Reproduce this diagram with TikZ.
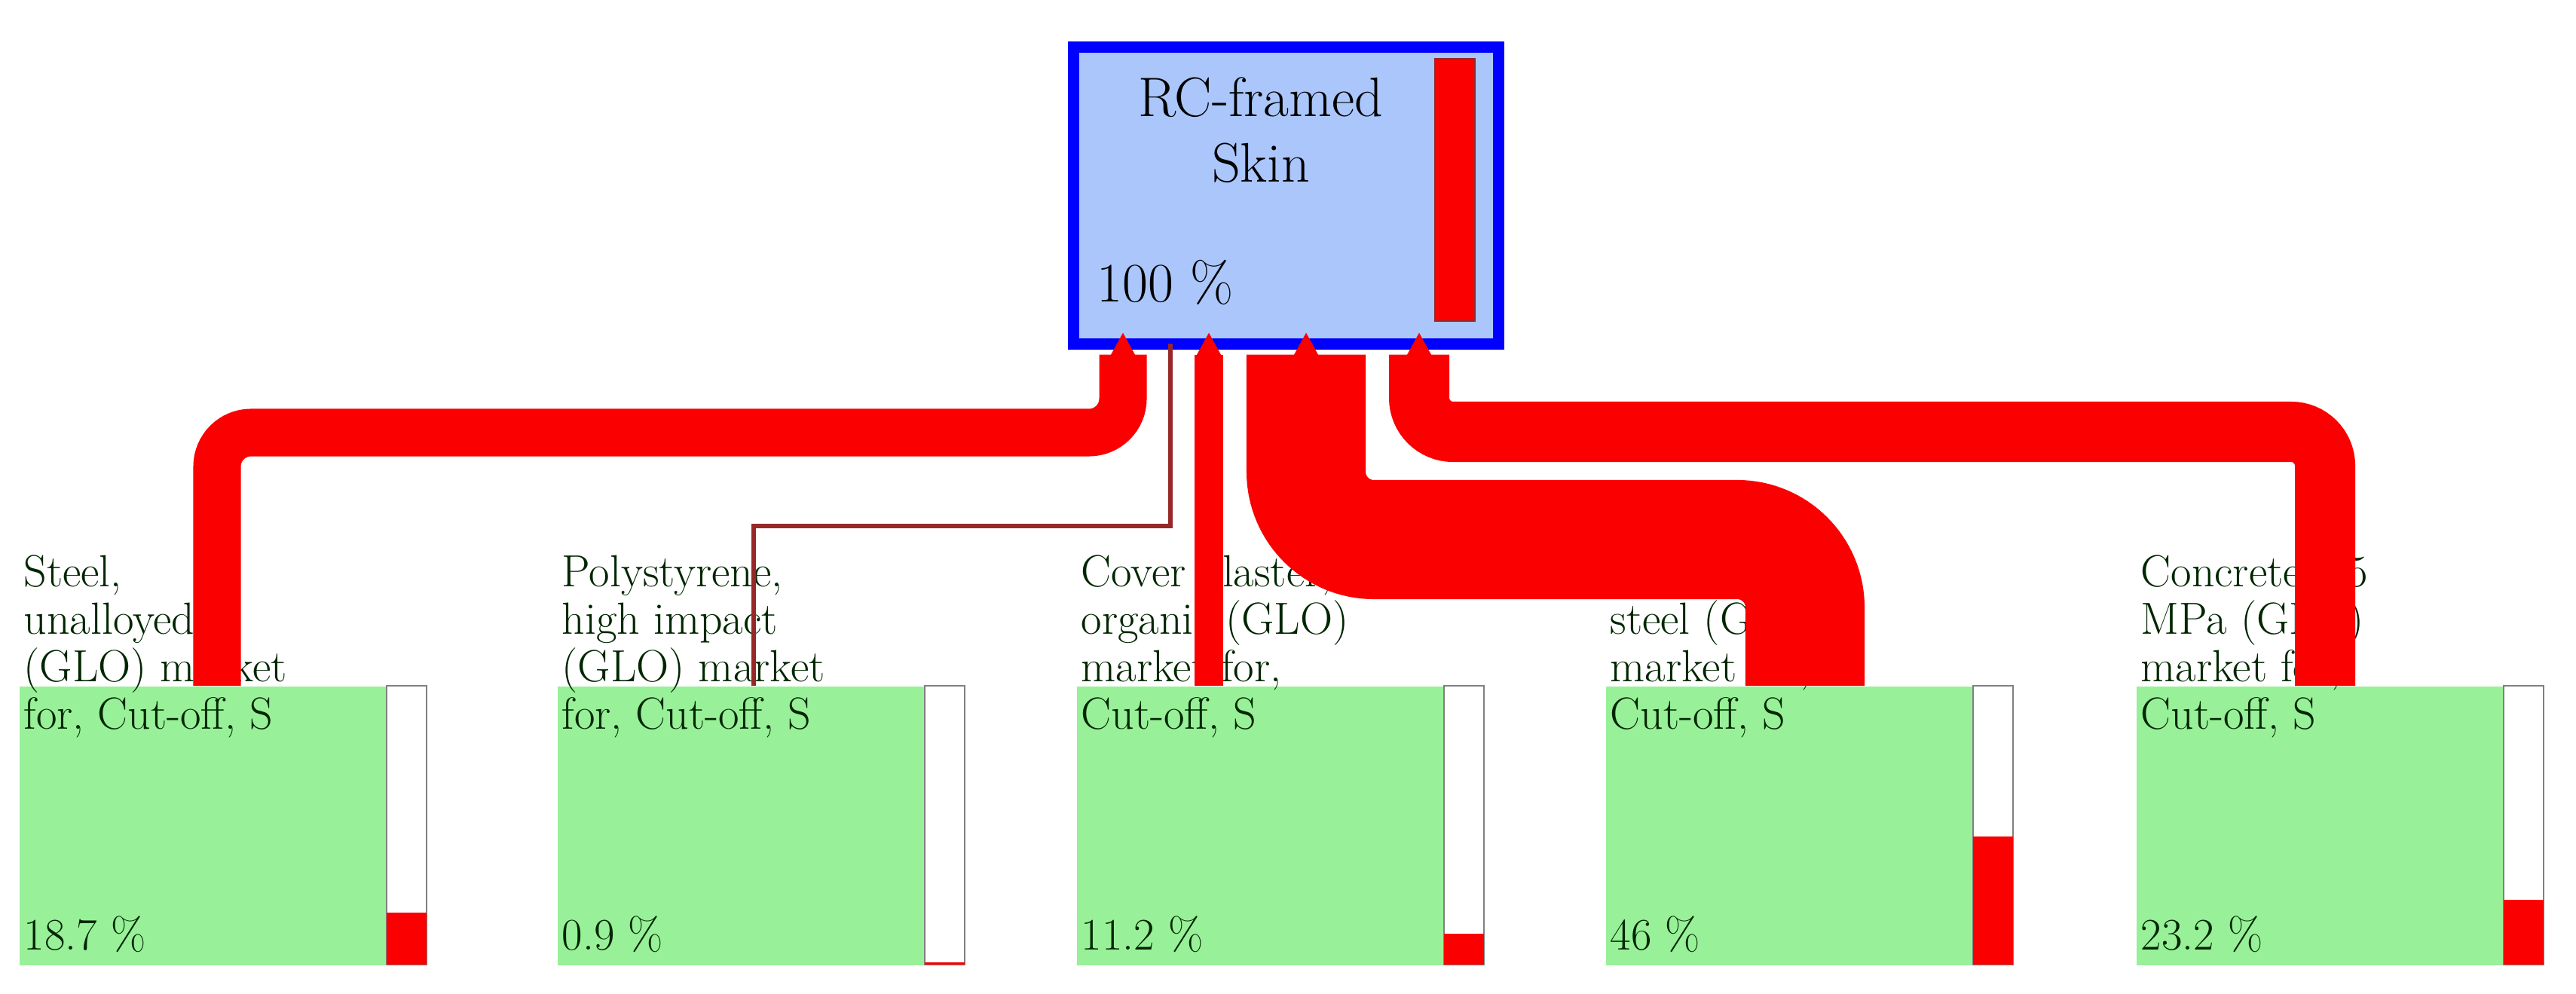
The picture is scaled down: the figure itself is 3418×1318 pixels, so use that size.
\documentclass[tikz,border=0pt]{standalone}
\usetikzlibrary{arrows.meta}
\definecolor{topfill}{RGB}{170,198,250}
\definecolor{boxfill}{RGB}{152,240,152}
\definecolor{flowred}{RGB}{250,0,0}
\definecolor{thinred}{RGB}{150,40,40}
\begin{document}
\begin{tikzpicture}[x=0.01cm,y=-0.01cm,
  flow/.style={draw=flowred,line cap=butt,rounded corners=0.45cm,
    -{Triangle[length=9pt,width'=0pt 1]}},
  matbox/.style={fill=boxfill,draw=none,minimum width=4.88cm,minimum height=3.7cm,anchor=north west,inner sep=0},
  bartrack/.style={fill=white,draw=gray,line width=0.6pt},
  btext/.style={anchor=base west,font=\fontsize{17}{17.9}\selectfont,align=left,inner sep=0,text=black!85!green}]
\useasboundingbox (0,0) rectangle (3418,1318);
% top box
\node[draw=blue,line width=0.15cm,fill=topfill,minimum width=5.64cm,minimum height=3.94cm,anchor=north west,inner sep=0] (top) at (1416.5,54.5) {};
\fill[flowred] (1904,78) rectangle (1957,426);
\draw[thinred,line width=0.5pt] (1904,78) rectangle (1957,426);
\node[font=\fontsize{21}{25}\selectfont,anchor=base] (t1) at (1673,154) {RC-framed};
\node[font=\fontsize{21}{25}\selectfont,anchor=base] (t2) at (1673,241) {Skin};
\node[font=\fontsize{21}{25}\selectfont,anchor=base west,inner sep=0] (t3) at (1455,400) {100 \%};
% bottom boxes
\foreach \n/\x/\p/\a/\b in {1/25/0.187/{Steel,\\unalloyed\\(GLO) market\\for, Cut-off, S}/18.7 \%,
  2/739/0.009/{Polystyrene,\\high impact\\(GLO) market\\for, Cut-off, S}/0.9 \%,
  3/1428/0.112/{Cover plaster,\\organic (GLO)\\market for,\\Cut-off, S}/11.2 \%,
  4/2130/0.46/{Reinforcing\\steel (GLO)\\market for,\\Cut-off, S}/46 \%,
  5/2834/0.232/{Concrete, 35\\MPa (GLO)\\market for,\\Cut-off, S}/23.2 \%}{
  \node[matbox] (b\n) at (\x,910) {};
  \draw[bartrack] (\x+488,910) rectangle (\x+541,1280);
  \fill[flowred] (\x+488,1280-370*\p) rectangle (\x+541,1280);
  \node[btext] (l\n) at (\x+6,967) {\a};
  \node[btext] (p\n) at (\x+6,1260) {\b};
}
% connectors
\coordinate (s1) at (1490,441); \coordinate (e1) at (288,910);
\coordinate (s2) at (1553,441); \coordinate (e2) at (1000,910);
\coordinate (s3) at (1604,441); \coordinate (e3) at (1604,910);
\coordinate (s4) at (1733,441); \coordinate (e4) at (2395,910);
\coordinate (s5) at (1883,441); \coordinate (e5) at (3085,910);
\draw[flow,line width=0.63cm] (e1) -- (288,574) -- (1490,574) -- (s1);
\draw[thinred,line width=1.5pt] (e2) -- (1000,698) -- (1553,698) -- (1553,456);
\draw[flow,line width=0.38cm] (e3) -- (s3);
\draw[flow,line width=1.58cm,rounded corners=0.9cm] (e4) -- (2395,716) -- (1733,716) -- (s4);
\draw[flow,line width=0.8cm] (e5) -- (3085,573) -- (1883,573) -- (s5);
\end{tikzpicture}
\end{document}
